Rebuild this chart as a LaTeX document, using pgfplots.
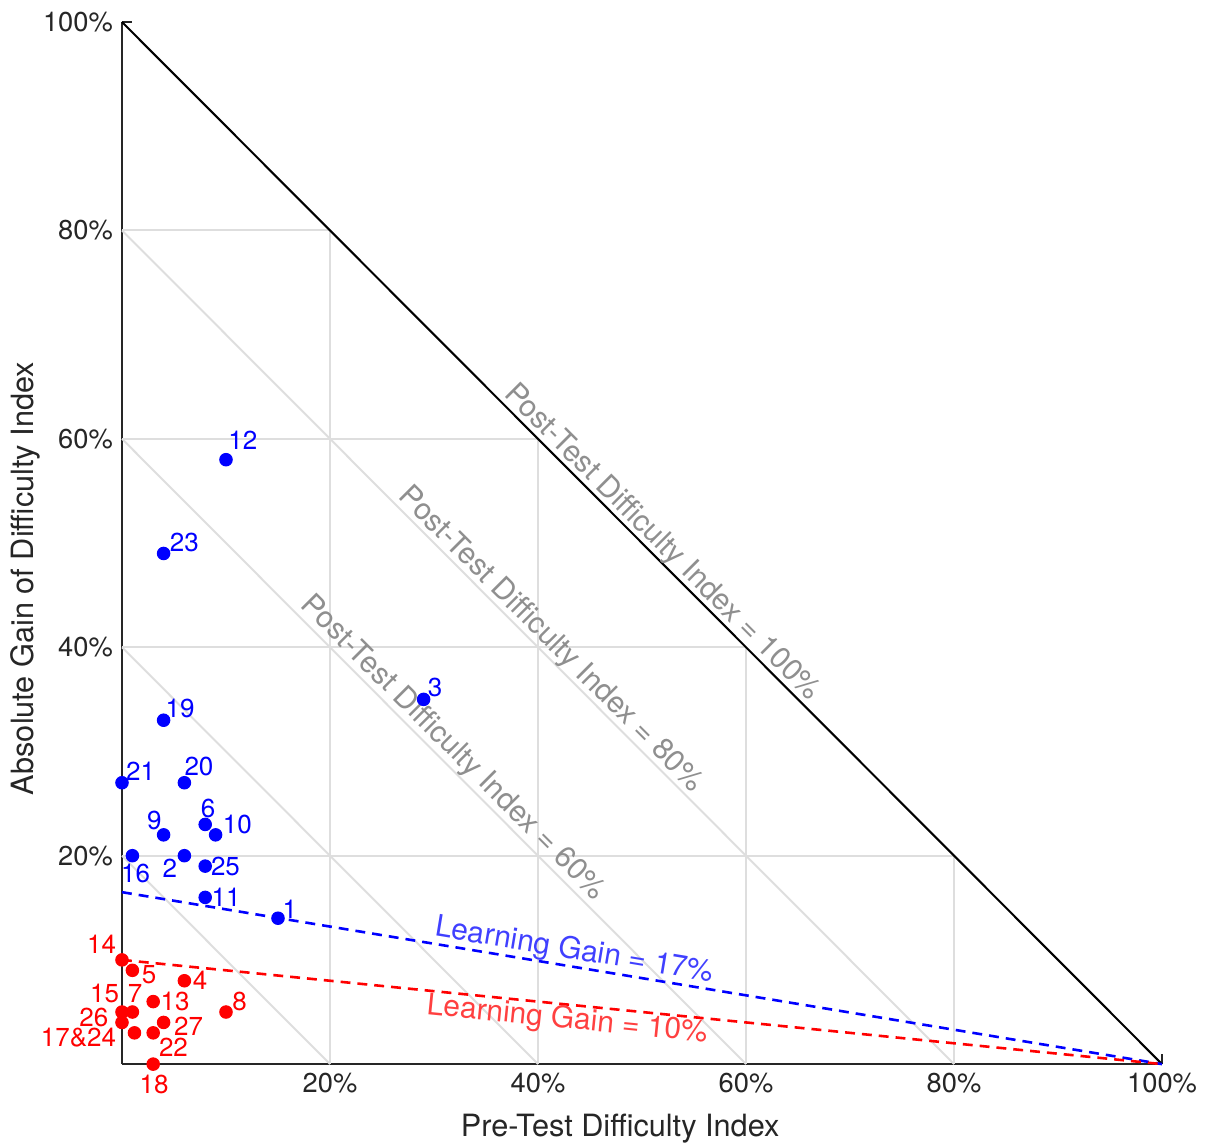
\documentclass[border=0pt]{standalone}
\usepackage{fontspec}
\setmainfont{TeX Gyre Heros}
\usepackage{pgfplots}
\pgfplotsset{compat=1.18}

\definecolor{axgray}{rgb}{0.15,0.15,0.15}
\definecolor{gridgray}{rgb}{0.87,0.87,0.87}
\definecolor{labgray}{rgb}{0.56,0.56,0.56}
\definecolor{lgblue}{rgb}{0.25,0.25,1}
\definecolor{lgred}{rgb}{1,0.25,0.25}

\begin{document}
\begin{tikzpicture}
\begin{axis}[
    scale only axis, width=400pt, height=400.8pt,
    xmin=0, xmax=100, ymin=0, ymax=100,
    clip=false,
    axis x line*=bottom, axis y line*=left,
    axis line style={axgray, line width=0.8pt},
    xtick={20,40,60,80,100}, ytick={20,40,60,80,100},
    xticklabels={20\%,40\%,60\%,80\%,100\%},
    yticklabels={20\%,40\%,60\%,80\%,100\%},
    tick align=inside, major tick length=3.8pt,
    tick style={axgray, line width=0.8pt},
    ticklabel style={text=axgray, font=\fontsize{10.5}{12}\selectfont},
    xlabel={Pre-Test Difficulty Index},
    ylabel={Absolute Gain of Difficulty Index},
    xlabel style={at={(rel axis cs:0.479,-0.069)}, anchor=base, text=axgray, font=\fontsize{11.8}{14}\selectfont},
    ylabel style={at={(rel axis cs:-0.0933,0.466)}, anchor=center, text=axgray, font=\fontsize{11.8}{14}\selectfont},
    every node/.append style={font=\fontsize{10.5}{12}\selectfont},
]
% grid, kept below the 100% line
\addplot[gridgray, line width=0.75pt] coordinates {(20,0) (20,80)};
\addplot[gridgray, line width=0.75pt] coordinates {(40,0) (40,60)};
\addplot[gridgray, line width=0.75pt] coordinates {(60,0) (60,40)};
\addplot[gridgray, line width=0.75pt] coordinates {(80,0) (80,20)};
\addplot[gridgray, line width=0.75pt] coordinates {(0,20) (80,20)};
\addplot[gridgray, line width=0.75pt] coordinates {(0,40) (60,40)};
\addplot[gridgray, line width=0.75pt] coordinates {(0,60) (40,60)};
\addplot[gridgray, line width=0.75pt] coordinates {(0,80) (20,80)};
% post-test iso lines
\addplot[gridgray, line width=0.75pt] coordinates {(0,20) (20,0)};
\addplot[gridgray, line width=0.75pt] coordinates {(0,40) (40,0)};
\addplot[gridgray, line width=0.75pt] coordinates {(0,60) (60,0)};
\addplot[gridgray, line width=0.75pt] coordinates {(0,80) (80,0)};
\addplot[black, line width=0.8pt] coordinates {(0,100) (100,0)};

% learning gain lines
\addplot[blue, line width=1pt, dash pattern=on 3.8pt off 2.7pt] coordinates {(0,16.5) (100,0)};
\addplot[red, line width=1pt, dash pattern=on 3.8pt off 2.7pt] coordinates {(0,10) (100,0)};

% items
\addplot[only marks, mark=*, mark size=2.4pt, blue] coordinates {
    (15,14) (6,20) (29,35) (8,23) (4,22) (9,22) (8,16)
    (10,58) (1,20) (4,33) (6,27) (0,27) (4,49) (8,19)
};
\addplot[only marks, mark=*, mark size=2.4pt, red] coordinates {
    (6,8) (1,9) (1,5) (10,5) (3,6) (0,10) (0,5)
    (1.2,3) (3,0) (3,3) (0,4) (4,4)
};

% item labels
\begin{scope}[blue]
\node at (axis cs:16.15,14.9) {1};
\node at (axis cs:4.6,18.8) {2};
\node at (axis cs:30.1,36.1) {3};
\node at (axis cs:8.27,24.5) {6};
\node at (axis cs:3.1,23.4) {9};
\node at (axis cs:11.1,23.0) {10};
\node at (axis cs:10.0,16.0) {11};
\node at (axis cs:11.63,59.9) {12};
\node at (axis cs:1.3,18.3) {16};
\node at (axis cs:5.58,34.1) {19};
\node at (axis cs:7.4,28.6) {20};
\node at (axis cs:1.78,28.1) {21};
\node at (axis cs:6.0,50.05) {23};
\node at (axis cs:9.95,18.95) {25};
\end{scope}
\begin{scope}[red]
\node at (axis cs:7.5,8.06) {4};
\node at (axis cs:2.6,8.54) {5};
\node at (axis cs:1.25,6.8) {7};
\node at (axis cs:11.3,6.05) {8};
\node at (axis cs:5.1,6.05) {13};
\node at (axis cs:-1.97,11.5) {14};
\node at (axis cs:-1.68,6.8) {15};
\node at (axis cs:-4.18,2.54) {17\&24};
\node at (axis cs:3.08,-2.0) {18};
\node at (axis cs:4.95,1.58) {22};
\node at (axis cs:-2.7,4.46) {26};
\node at (axis cs:6.4,3.6) {27};
\end{scope}

% line annotations
\begin{scope}[every node/.append style={font=\fontsize{11.5}{14}\selectfont}]
\node[labgray, rotate=-45] at (axis cs:51.9,50.0) {Post-Test Difficulty Index = 100\%};
\node[labgray, rotate=-45] at (axis cs:41.2,40.7) {Post-Test Difficulty Index = 80\%};
\node[labgray, rotate=-45] at (axis cs:31.8,30.3) {Post-Test Difficulty Index = 60\%};
\node[lgblue, rotate=-9.4] at (axis cs:43.5,10.85) {Learning Gain = 17\%};
\node[lgred, rotate=-5.7] at (axis cs:42.8,4.2) {Learning Gain = 10\%};
\end{scope}

\coordinate (bbsw) at (axis cs:-11.73,-7.49);
\coordinate (bbne) at (axis cs:104.42,102.11);
\end{axis}
\pgfresetboundingbox
\path (bbsw) rectangle (bbne);
\end{tikzpicture}
\end{document}
